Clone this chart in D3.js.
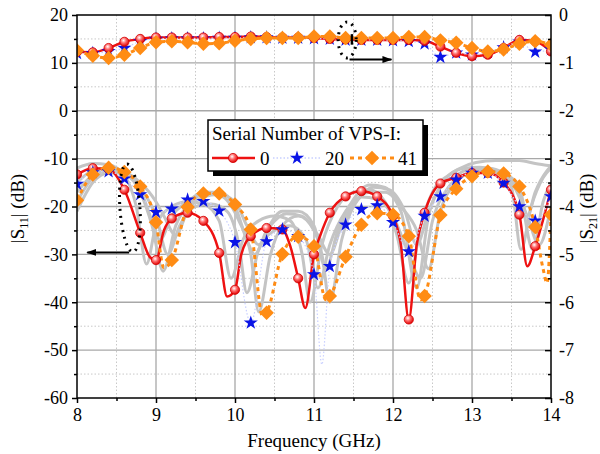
<!DOCTYPE html>
<html>
<head>
<meta charset="utf-8">
<script src="https://cdn.jsdelivr.net/npm/d3@7"></script>
<style>
  body { margin: 0; background: #fff; }
  svg { font-family: "Liberation Serif", "Times New Roman", serif; }
</style>
</head>
<body>
<div class="chart"></div>
<script>
// Chart sizes
const width = 600;
const height = 454;
const margin = {top: 15, right: 49, bottom: 56, left: 77};
const inner_width = width - margin.left - margin.right;
const inner_height = height - margin.top - margin.bottom;

// Tick values
const freqTicks = [8, 9, 10, 11, 12, 13, 14];
const freqMinor = [8.5, 9.5, 10.5, 11.5, 12.5, 13.5];
const s11Ticks = [-60, -50, -40, -30, -20, -10, 0, 10, 20];
const s11Minor = [-55, -45, -35, -25, -15, -5, 5, 15];
const s21Ticks = [-8, -7, -6, -5, -4, -3, -2, -1, 0];

// Serial numbers shown in the legend
const serials = ['0', '20', '41'];

// |S21| (right axis), sampled every 0.2 GHz
const s21Freq = [8.0, 8.2, 8.4, 8.6, 8.8, 9.0, 9.2, 9.4, 9.6, 9.8, 10.0, 10.2, 10.4, 10.6, 10.8, 11.0,
                 11.2, 11.4, 11.6, 11.8, 12.0, 12.2, 12.4, 12.6, 12.8, 13.0, 13.2, 13.4, 13.6, 13.8, 14.0];
const s21_0  = [-0.77, -0.78, -0.69, -0.56, -0.50, -0.47, -0.47, -0.47, -0.47, -0.46, -0.46, -0.45, -0.46, -0.47, -0.47, -0.48,
                -0.50, -0.51, -0.52, -0.52, -0.52, -0.52, -0.54, -0.66, -0.79, -0.86, -0.83, -0.69, -0.52, -0.55, -0.76];
const s21_20 = [-0.80, -0.80, -0.76, -0.69, -0.55, -0.50, -0.49, -0.49, -0.49, -0.48, -0.48, -0.47, -0.47, -0.48, -0.48, -0.49,
                -0.50, -0.52, -0.52, -0.52, -0.53, -0.55, -0.60, -0.88, -0.79, -0.83, -0.78, -0.68, -0.56, -0.77, -0.72];
const s21_41 = [-0.74, -0.85, -0.90, -0.83, -0.69, -0.57, -0.55, -0.57, -0.60, -0.59, -0.54, -0.50, -0.48, -0.48, -0.48, -0.45,
                -0.45, -0.48, -0.48, -0.48, -0.48, -0.46, -0.46, -0.53, -0.58, -0.69, -0.76, -0.72, -0.60, -0.55, -0.62];

// |S11| (left axis), [frequency, dB]
const s11_0 = [[8.0, -13.3], [8.2, -12], [8.4, -12.2], [8.6, -16.5], [8.8, -25.5], [8.92, -30.5], [9.0, -31.2], [9.1, -25],
  [9.2, -22.5], [9.4, -21.3], [9.6, -23], [9.8, -29.7], [9.9, -38.8], [10.0, -37.4], [10.08, -30], [10.2, -26.2],
  [10.4, -24.5], [10.6, -24.8], [10.7, -28.3], [10.8, -35], [10.89, -41.2], [11.0, -30], [11.08, -26], [11.2, -21.3],
  [11.4, -17.9], [11.6, -16.8], [11.8, -17.9], [12.0, -22], [12.1, -28], [12.2, -43.6], [12.3, -28], [12.4, -21.3],
  [12.6, -15.2], [12.8, -14], [13.0, -13], [13.2, -13], [13.4, -15], [13.6, -21.7], [13.7, -32.5], [13.8, -28.3], [14.0, -16.5]];
const s11_20 = [[8.0, -15.3], [8.2, -12.9], [8.4, -12.7], [8.6, -14.2], [8.8, -17.5], [9.0, -21.2], [9.2, -20.5], [9.4, -18.6],
  [9.6, -18.9], [9.8, -20.9], [10.0, -27.5], [10.2, -44.3], [10.4, -27.3], [10.6, -24.8], [10.8, -26.2], [11.0, -34.2],
  [11.1, -53], [11.2, -32.5], [11.4, -23.8], [11.6, -20.6], [11.8, -19.8], [12.0, -23.3], [12.2, -29.4], [12.4, -22],
  [12.6, -17.9], [12.8, -14.4], [13.0, -13], [13.2, -13], [13.4, -15.1], [13.6, -20], [13.8, -23], [14.0, -17.9]];
const s11_41 = [[8.0, -18.7], [8.2, -13.3], [8.4, -11.9], [8.6, -12.8], [8.8, -15.8], [9.0, -23.3], [9.1, -32.8], [9.2, -31.2],
  [9.4, -20.1], [9.6, -17.3], [9.8, -17.3], [10.0, -19.6], [10.2, -24.8], [10.35, -43], [10.4, -42.2], [10.6, -29.9],
  [10.8, -26.3], [11.0, -28.3], [11.15, -39.5], [11.2, -38.7], [11.4, -30.5], [11.6, -23.8], [11.8, -21.4], [12.0, -21.7],
  [12.2, -26.2], [12.35, -39.5], [12.4, -38.7], [12.6, -21.8], [12.8, -16.3], [13.0, -13.7], [13.2, -12.7], [13.4, -13.1],
  [13.6, -15.8], [13.8, -24.3], [13.9, -33], [13.95, -36], [14.0, -21.7]];

// other samples, drawn in grey
const grey1 = [[8.0, -12], [8.2, -11], [8.4, -11.3], [8.6, -13.5], [8.75, -20], [8.88, -32], [9.0, -24], [9.2, -20], [9.4, -19],
  [9.6, -19.5], [9.8, -23], [9.95, -35], [10.1, -27], [10.3, -23], [10.5, -22], [10.7, -23], [10.85, -30], [10.95, -40],
  [11.1, -28], [11.3, -20], [11.5, -17], [11.7, -16.5], [11.9, -19], [12.05, -26], [12.2, -36], [12.35, -24], [12.5, -17],
  [12.7, -13.5], [12.9, -12], [13.1, -11.8], [13.3, -12.5], [13.5, -16], [13.62, -29], [13.75, -20], [13.9, -14], [14.0, -12]];
const grey2 = [[8.0, -15], [8.2, -12.5], [8.4, -12], [8.6, -13], [8.8, -17], [8.95, -24], [9.09, -33.5], [9.25, -24], [9.45, -19],
  [9.65, -17], [9.85, -18], [10.05, -23], [10.2, -30], [10.3, -42], [10.45, -30], [10.6, -24], [10.8, -22], [11.0, -25],
  [11.1, -30], [11.2, -40], [11.35, -27], [11.5, -20], [11.7, -17], [11.9, -17], [12.1, -21], [12.3, -37], [12.45, -22],
  [12.6, -16], [12.8, -13.5], [13.0, -12], [13.2, -12], [13.4, -13.5], [13.6, -17], [13.77, -29], [13.9, -19], [14.0, -15]];
const grey3 = [[8.0, -17], [8.2, -13.5], [8.4, -12.5], [8.6, -13], [8.8, -16], [9.0, -22], [9.15, -30], [9.3, -24], [9.5, -20],
  [9.7, -19.5], [9.9, -21], [10.05, -28], [10.15, -38], [10.3, -29], [10.5, -25], [10.7, -24], [10.9, -27], [11.05, -37],
  [11.2, -28], [11.4, -21], [11.6, -18], [11.8, -18.5], [12.0, -22], [12.2, -30], [12.35, -35], [12.5, -23], [12.7, -16],
  [12.9, -13.5], [13.1, -12.5], [13.3, -13], [13.5, -15], [13.7, -22], [13.85, -28], [14.0, -20]];
const grey4 = [[8.0, -21], [8.2, -15], [8.4, -13], [8.6, -13], [8.8, -15], [9.0, -19], [9.1, -22], [9.25, -26], [9.4, -21],
  [9.6, -18], [9.8, -17.5], [10.0, -19], [10.15, -24], [10.3, -28], [10.45, -24], [10.65, -21.5], [10.85, -22], [11.05, -26],
  [11.2, -30], [11.35, -24], [11.55, -18.5], [11.75, -16], [11.95, -16.5], [12.15, -21], [12.3, -28], [12.45, -21],
  [12.65, -14.5], [12.85, -12], [13.05, -10.8], [13.3, -10.4], [13.6, -10.4], [13.8, -11], [14.0, -11.5]];
const grey5 = [[8.0, -19], [8.2, -14], [8.4, -12.5], [8.6, -13], [8.8, -16.5], [8.95, -23], [9.05, -27], [9.2, -22], [9.4, -19],
  [9.6, -17], [9.8, -17], [10.0, -20], [10.15, -27], [10.25, -30], [10.4, -25], [10.6, -21], [10.8, -21], [11.0, -24],
  [11.15, -33], [11.3, -25], [11.5, -18.5], [11.7, -15.5], [11.9, -16], [12.1, -20], [12.3, -25], [12.45, -33], [12.6, -21],
  [12.8, -15], [13.0, -12.5], [13.2, -12], [13.4, -13], [13.6, -16], [13.7, -22], [13.8, -17], [13.95, -12.5], [14.0, -11.6]];
const greys = [grey1, grey2, grey3, grey4, grey5];

// Colours
const red = '#ee1111';
const blue = '#0a14e6';
const paleBlue = '#c8cfff';
const orange = '#ff8c14';
const grey = '#c4c4c4';

const wrapper = d3.select('.chart');
const svg = wrapper.append('svg')
    .attr('width', width)
    .attr('height', height);

const defs = svg.append('defs');
defs.append('clipPath').attr('id', 'clip')
  .append('rect').attr('width', inner_width).attr('height', inner_height);
const grad = defs.append('radialGradient').attr('id', 'ball')
    .attr('cx', '40%').attr('cy', '35%').attr('r', '65%');
grad.append('stop').attr('offset', '0%').attr('stop-color', '#ffffff');
grad.append('stop').attr('offset', '45%').attr('stop-color', '#ff6a6a');
grad.append('stop').attr('offset', '100%').attr('stop-color', '#e00000');
defs.append('marker').attr('id', 'arrow')
    .attr('viewBox', '0 0 10 10').attr('refX', 9).attr('refY', 5)
    .attr('markerWidth', 5).attr('markerHeight', 5).attr('orient', 'auto')
  .append('path').attr('d', 'M0,1.5 L10,5 L0,8.5 Z').attr('fill', '#000');

// Scales
const xScale = d3.scaleLinear().domain([8, 14]).range([0, inner_width]);
const yLeft = d3.scaleLinear().domain([-60, 20]).range([inner_height, 0]);
const yRight = d3.scaleLinear().domain([-8, 0]).range([inner_height, 0]);

const chart = svg.append('g').attr('transform', `translate(${margin.left}, ${margin.top})`);

// Grid
const grid = chart.append('g');
grid.selectAll('.vmin').data(freqMinor).join('line')
    .attr('x1', d => xScale(d)).attr('x2', d => xScale(d))
    .attr('y1', 0).attr('y2', inner_height)
    .attr('stroke', '#c8c8c8').attr('stroke-dasharray', '1.5,2');
grid.selectAll('.hmin').data(s11Minor).join('line')
    .attr('x1', 0).attr('x2', inner_width)
    .attr('y1', d => yLeft(d)).attr('y2', d => yLeft(d))
    .attr('stroke', '#c8c8c8').attr('stroke-dasharray', '1.5,2');
grid.selectAll('.vmaj').data(freqTicks.slice(1, -1)).join('line')
    .attr('x1', d => xScale(d)).attr('x2', d => xScale(d))
    .attr('y1', 0).attr('y2', inner_height)
    .attr('stroke', '#a8a8a8').attr('stroke-width', 1.3);
grid.selectAll('.hmaj').data(s11Ticks.slice(1, -1)).join('line')
    .attr('x1', 0).attr('x2', inner_width)
    .attr('y1', d => yLeft(d)).attr('y2', d => yLeft(d))
    .attr('stroke', '#a8a8a8').attr('stroke-width', 1.3);

const plot = chart.append('g').attr('clip-path', 'url(#clip)');

const line11 = d3.line()
    .x(d => xScale(d[0]))
    .y(d => yLeft(d[1]))
    .curve(d3.curveMonotoneX);
const line21 = d3.line()
    .x((d, i) => xScale(s21Freq[i]))
    .y(d => yRight(d))
    .curve(d3.curveMonotoneX);

// Grey curves
plot.append('g').selectAll('path').data(greys).join('path')
    .attr('d', line11)
    .attr('fill', 'none')
    .attr('stroke', grey)
    .attr('stroke-width', 3);

// Marker helpers
const onGrid = f => Math.abs(f * 5 - Math.round(f * 5)) < 1e-6;
const star = d3.symbol().type(d3.symbolStar).size(62);
const diamond = d3.symbol().type(d3.symbolSquare).size(105);

function drawCircles(g, pts) {
  g.selectAll('circle.m').data(pts).join('circle')
      .attr('cx', d => xScale(d[0])).attr('cy', d => d[1])
      .attr('r', 4.6)
      .attr('fill', 'url(#ball)')
      .attr('stroke', '#d00000').attr('stroke-width', 0.8);
}
function drawStars(g, pts) {
  g.selectAll('path.m').data(pts).join('path')
      .attr('d', star())
      .attr('transform', d => `translate(${xScale(d[0])}, ${d[1]})`)
      .attr('fill', blue);
}
function drawDiamonds(g, pts) {
  g.selectAll('path.m').data(pts).join('path')
      .attr('d', diamond())
      .attr('transform', d => `translate(${xScale(d[0])}, ${d[1]}) rotate(45)`)
      .attr('fill', orange);
}

// S11 series
const s11Series = [
  {data: s11_0,  color: red,      width: 2.5, dash: null,    draw: drawCircles},
  {data: s11_20, color: paleBlue, width: 1.2, dash: '1.5,2', draw: drawStars},
  {data: s11_41, color: orange,   width: 3,   dash: '4,4',   draw: drawDiamonds}
];
s11Series.forEach(s => {
  plot.append('path')
      .attr('d', line11(s.data))
      .attr('fill', 'none')
      .attr('stroke', s.color)
      .attr('stroke-width', s.width)
      .attr('stroke-dasharray', s.dash);
});
s11Series.forEach(s => {
  const pts = s.data.filter(d => onGrid(d[0])).map(d => [d[0], yLeft(d[1])]);
  s.draw(plot.append('g'), pts);
});

// S21 series
const s21Series = [
  {data: s21_0,  color: red,      width: 2.5, dash: null,    draw: drawCircles},
  {data: s21_20, color: paleBlue, width: 1.2, dash: '1.5,2', draw: drawStars},
  {data: s21_41, color: orange,   width: 3,   dash: '4,4',   draw: drawDiamonds}
];
s21Series.forEach(s => {
  plot.append('path')
      .attr('d', line21(s.data))
      .attr('fill', 'none')
      .attr('stroke', s.color)
      .attr('stroke-width', s.width)
      .attr('stroke-dasharray', s.dash);
});
[s21Series[1], s21Series[0], s21Series[2]].forEach(s => {
  const pts = s.data.map((d, i) => [s21Freq[i], yRight(d)]);
  s.draw(plot.append('g'), pts);
});

// Annotations: dotted ellipses with arrows
const note = chart.append('g');
note.append('ellipse')
    .attr('cx', xScale(8.67)).attr('cy', yLeft(-20.3))
    .attr('rx', 10).attr('ry', 44)
    .attr('transform', `rotate(-4, ${xScale(8.67)}, ${yLeft(-20.3)})`)
    .attr('fill', 'none').attr('stroke', '#000')
    .attr('stroke-width', 3).attr('stroke-dasharray', '2,5');
note.append('line')
    .attr('x1', xScale(8.66)).attr('x2', xScale(8.13))
    .attr('y1', yLeft(-29.6)).attr('y2', yLeft(-29.6))
    .attr('stroke', '#000').attr('stroke-width', 2)
    .attr('marker-end', 'url(#arrow)');
note.append('ellipse')
    .attr('cx', xScale(11.42)).attr('cy', yRight(-0.52))
    .attr('rx', 9).attr('ry', 18)
    .attr('fill', 'none').attr('stroke', '#000')
    .attr('stroke-width', 3).attr('stroke-dasharray', '2,5');
note.append('line')
    .attr('x1', xScale(11.48)).attr('x2', xScale(11.48))
    .attr('y1', yRight(-0.4)).attr('y2', yRight(-0.62))
    .attr('stroke', '#000').attr('stroke-width', 2.5);
note.append('line')
    .attr('x1', xScale(11.45)).attr('x2', xScale(11.98))
    .attr('y1', yRight(-0.93)).attr('y2', yRight(-0.93))
    .attr('stroke', '#000').attr('stroke-width', 2)
    .attr('marker-end', 'url(#arrow)');

// Axes
const fontSize = '18px';
const plain = d => String(d);
chart.append('rect')
    .attr('width', inner_width).attr('height', inner_height)
    .attr('fill', 'none').attr('stroke', '#000').attr('stroke-width', 1.5);

const styleAxis = g => {
  g.select('.domain').remove();
  g.selectAll('.tick line').attr('stroke', '#000').attr('stroke-width', 1.5);
  g.selectAll('text').style('font-size', fontSize).attr('fill', '#000')
      .style('font-family', '"Liberation Serif", serif');
};

chart.append('g')
    .attr('transform', `translate(0, ${inner_height})`)
    .call(d3.axisBottom(xScale).tickValues(freqTicks).tickSize(5).tickPadding(5).tickFormat(plain))
    .call(styleAxis);
chart.append('g')
    .attr('transform', `translate(0, ${inner_height})`)
    .call(d3.axisBottom(xScale).tickValues(freqMinor).tickSize(3).tickFormat(''))
    .call(styleAxis);

chart.append('g')
    .call(d3.axisLeft(yLeft).tickValues(s11Ticks).tickSize(5).tickPadding(4).tickFormat(plain))
    .call(styleAxis);
chart.append('g')
    .call(d3.axisLeft(yLeft).tickValues(s11Minor).tickSize(3).tickFormat(''))
    .call(styleAxis);

chart.append('g')
    .attr('transform', `translate(${inner_width}, 0)`)
    .call(d3.axisRight(yRight).tickValues(s21Ticks).tickSize(-6).tickPadding(8).tickFormat(plain))
    .call(styleAxis);
chart.append('g')
    .attr('transform', `translate(${inner_width}, 0)`)
    .call(d3.axisRight(yRight).tickValues(s21Ticks.slice(1).map(d => d - 0.5)).tickSize(-3).tickFormat(''))
    .call(styleAxis);

// Axis titles
svg.append('text')
    .attr('x', margin.left + inner_width / 2).attr('y', 447)
    .attr('text-anchor', 'middle')
    .style('font-size', '19px')
    .text('Frequency (GHz)');

function yTitle(x, sub) {
  const t = svg.append('text')
      .attr('transform', `translate(${x}, ${margin.top + inner_height / 2 + 2}) rotate(-90)`)
      .attr('text-anchor', 'middle')
      .style('font-size', '19px');
  t.append('tspan').text('|S');
  t.append('tspan').text(sub).attr('dy', 4).style('font-size', '12px');
  t.append('tspan').text('| (dB)').attr('dy', -4);
}
yTitle(24, '11');
yTitle(593, '21');

// Legend
const legend = svg.append('g').attr('transform', 'translate(208, 120)');
legend.append('rect')
    .attr('x', 5).attr('y', 5).attr('width', 215).attr('height', 51)
    .attr('fill', '#000');
legend.append('rect')
    .attr('width', 215).attr('height', 51)
    .attr('fill', '#fff').attr('stroke', '#000').attr('stroke-width', 1.5);
legend.append('text')
    .attr('x', 4).attr('y', 20)
    .style('font-size', '19px')
    .text('Serial Number of VPS-I:');

const legendItems = [
  {x0: 4,   x1: 47,  mx: 25,  tx: 52,  s: s11Series[0]},
  {x0: 65,  x1: 112, mx: 89,  tx: 117, s: s11Series[1]},
  {x0: 142, x1: 187, mx: 164, tx: 190, s: s11Series[2]}
];
legendItems.forEach((item, i) => {
  const g = legend.append('g');
  g.append('line')
      .attr('x1', item.x0).attr('x2', item.x1)
      .attr('y1', 38).attr('y2', 38)
      .attr('stroke', item.s.color)
      .attr('stroke-width', i === 1 ? 1.5 : item.s.width)
      .attr('stroke-dasharray', item.s.dash);
  item.s.draw(g, [[xScale.invert(item.mx), 38]]);
  g.append('text')
      .attr('x', item.tx).attr('y', 45)
      .style('font-size', '19px')
      .text(serials[i]);
});
</script>
</body>
</html>
